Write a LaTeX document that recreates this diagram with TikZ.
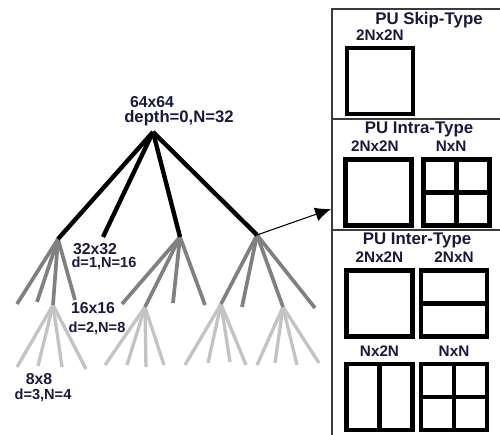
\documentclass[tikz,border=0pt]{standalone}
\usepackage{fontspec}
\setmainfont{Liberation Sans}
\usepackage{tikz}
\usetikzlibrary{arrows.meta,positioning}
\definecolor{txtnavy}{RGB}{25,25,60}
\definecolor{cugray}{RGB}{128,128,128}
\definecolor{leafgray}{RGB}{195,195,195}
\definecolor{framegray}{RGB}{60,60,60}

\begin{document}
\begin{tikzpicture}[
      x=0.02cm, y=-0.02cm,
      cu0/.style={line width=2.5pt, black},
      cu1/.style={line width=2.1pt, cugray},
      cu2/.style={line width=1.9pt, leafgray},
      lbl/.style={font=\fontsize{9}{10}\selectfont\bfseries, text=txtnavy, inner sep=0pt},
      sublbl/.style={font=\fontsize{8.3}{9}\selectfont\bfseries, text=txtnavy, inner sep=0pt},
      ttl/.style={font=\fontsize{9.6}{11}\selectfont\bfseries, text=txtnavy, inner sep=0pt},
      typ/.style={font=\fontsize{8.7}{10}\selectfont\bfseries, text=txtnavy, inner sep=0pt},
      pu/.style={draw, line width=2.3pt, minimum size=1.32cm, inner sep=0pt},
      frame/.style={line width=0.8pt, framegray},
      arrow/.style={-{Latex[length=9pt,width=8pt]}, line width=0.6pt}
    ]
      \useasboundingbox (0,0) rectangle (500,435);

      % CTU quad-tree
      \coordinate (root) at (153,132);
      \coordinate (a1) at (58,239);
      \coordinate (a2) at (103,237);
      \coordinate (a3) at (180,237);
      \coordinate (a4) at (257,235);

      \coordinate (b11) at (17,304);
      \coordinate (b12) at (37,302);
      \coordinate (b13) at (53,305);
      \coordinate (b14) at (75,300);
      \coordinate (b31) at (122,304);
      \coordinate (b32) at (145,307);
      \coordinate (b33) at (173,303);
      \coordinate (b34) at (205,305);
      \coordinate (b41) at (221,304);
      \coordinate (b42) at (242,307);
      \coordinate (b43) at (283,307);
      \coordinate (b44) at (315,308);

      % depth 3
      \draw[cu2] (b13) -- (17,367);
      \draw[cu2] (b13) -- (38,366);
      \draw[cu2] (b13) -- (62,367);
      \draw[cu2] (b13) -- (86,369);
      \draw[cu2] (b32) -- (105,365);
      \draw[cu2] (b32) -- (127,365);
      \draw[cu2] (b32) -- (146,367);
      \draw[cu2] (b32) -- (164,365);
      \draw[cu2] (b41) -- (185,365);
      \draw[cu2] (b41) -- (208,363);
      \draw[cu2] (b41) -- (230,362);
      \draw[cu2] (b41) -- (246,365);
      \draw[cu2] (b43) -- (257,365);
      \draw[cu2] (b43) -- (275,363);
      \draw[cu2] (b43) -- (297,365);
      \draw[cu2] (b43) -- (319,363);

      % depth 2
      \draw[cu1] (a1) -- (b11);
      \draw[cu1] (a1) -- (b12);
      \draw[cu1] (a1) -- (b13);
      \draw[cu1] (a1) -- (b14);
      \draw[cu1] (a3) -- (b31);
      \draw[cu1] (a3) -- (b32);
      \draw[cu1] (a3) -- (b33);
      \draw[cu1] (a3) -- (b34);
      \draw[cu1] (a4) -- (b41);
      \draw[cu1] (a4) -- (b42);
      \draw[cu1] (a4) -- (b43);
      \draw[cu1] (a4) -- (b44);

      % depth 1
      \draw[cu0] (root) -- (a1);
      \draw[cu0] (root) -- (a2);
      \draw[cu0] (root) -- (a3);
      \draw[cu0] (root) -- (a4);

      \node[lbl] (l64) at (152,102) {64x64};
      \node[lbl, font=\fontsize{9.5}{11}\selectfont\bfseries] (l64d) at (179,118) {depth=0,N=32};
      \node[lbl] (l32) at (95,249) {32x32};
      \node[sublbl] (l32d) at (104,263) {d=1,N=16};
      \node[lbl] (l16) at (93,308) {16x16};
      \node[sublbl] (l16d) at (97,328) {d=2,N=8};
      \node[lbl] (l8) at (39,379) {8x8};
      \node[sublbl] (l8d) at (43,395) {d=3,N=4};

      % PU panel
      \draw[frame] (332,435) -- (332,9) -- (500,9);
      \draw[frame] (332,119) -- (500,119);
      \draw[frame] (332,230) -- (500,230);

      \coordinate (tip) at (331,209);
      \draw[arrow] (a4) -- (tip);

      % skip
      \node[ttl] (skip) at (429,20) {PU Skip-Type};
      \node[pu] (skipsq) at (380,81) {};
      \node[typ, above=3pt of skipsq] {2Nx2N};

      % intra
      \node[ttl] (intra) at (419,129) {PU Intra-Type};
      \node[pu] (intraA) at (378.5,192.5) {};
      \node[pu] (intraB) at (456.5,192.5) {};
      \draw[line width=2.3pt] (intraB.north) -- (intraB.south);
      \draw[line width=2.3pt] (intraB.west) -- (intraB.east);
      \node[typ, above=3pt of intraA, xshift=-2pt] {2Nx2N};
      \node[typ, above=3pt of intraB, xshift=-3pt] {NxN};

      % inter
      \node[ttl] (inter) at (417,240) {PU Inter-Type};
      \node[pu] (interA) at (379.5,303.5) {};
      \node[pu] (interB) at (454,303.5) {};
      \node[pu] (interC) at (379.5,397) {};
      \node[pu] (interD) at (454,397) {};
      \draw[line width=2.3pt] (interB.west) -- (interB.east);
      \draw[line width=2.3pt] (interC.north) -- (interC.south);
      \draw[line width=2.3pt] (interD.north) -- (interD.south);
      \draw[line width=2.3pt] (interD.west) -- (interD.east);
      \node[typ, above=3pt of interA] {2Nx2N};
      \node[typ, above=3pt of interB] {2NxN};
      \node[typ, above=3pt of interC] {Nx2N};
      \node[typ, above=3pt of interD] {NxN};
    \end{tikzpicture}
\end{document}
